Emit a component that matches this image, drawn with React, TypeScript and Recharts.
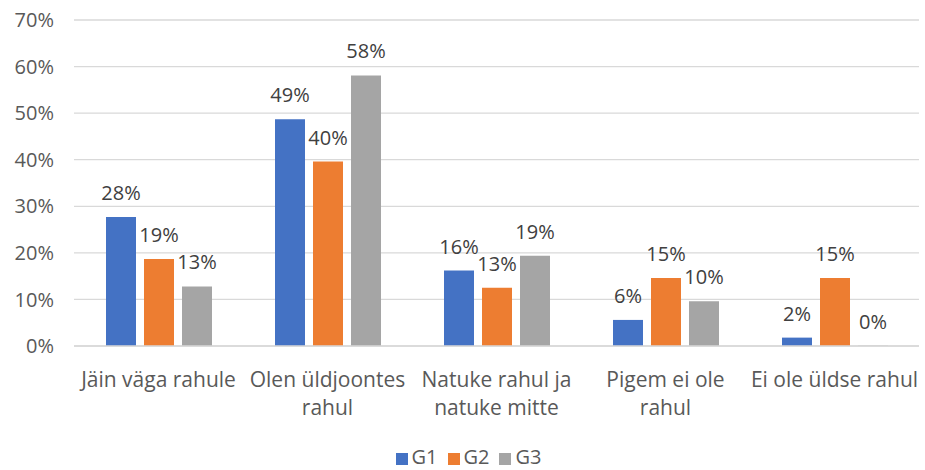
import { BarChart, Bar, CartesianGrid, XAxis, YAxis, Legend, LabelList } from "recharts";

const categories = [
  "Jäin väga rahule",
  "Olen üldjoontes\nrahul",
  "Natuke rahul ja\nnatuke mitte",
  "Pigem ei ole\nrahul",
  "Ei ole üldse rahul",
];
const g1 = [27.7, 48.7, 16.2, 5.6, 1.8];
const g2 = [18.7, 39.6, 12.5, 14.6, 14.6];
const g3 = [12.8, 58.1, 19.4, 9.6, 0];
const yTicks = [0, 10, 20, 30, 40, 50, 60, 70];

const data = categories.map((name, i) => ({ name, G1: g1[i], G2: g2[i], G3: g3[i] }));

const FONT = "'Open Sans', sans-serif";

const CategoryTick = ({ x, y, payload }: any) => {
  const lines = String(payload.value).split("\n");
  return (
    <text x={x} y={y} textAnchor="middle" fill="#595959" fontSize={21} fontFamily={FONT}>
      {lines.map((l, i) => (
        <tspan key={i} x={x} dy={i === 0 ? 33 : 28}>{l}</tspan>
      ))}
    </text>
  );
};

// draws the value above the bar
const ValueLabel = ({ x, y, width, value }: any) => (
  <text
    x={Number(x) + Number(width) / 2}
    y={Number(y) - 17}
    textAnchor="middle"
    fill="#404040"
    fontSize={20}
    fontFamily={FONT}
  >
    {`${Math.round(Number(value))}%`}
  </text>
);

export default function App() {
  return (
    <div style={{ position: "absolute", left: 0, top: 0, background: "#fff" }}>
      <BarChart
        width={925}
        height={470}
        data={data}
        margin={{ top: 20, right: 6, left: 0, bottom: 0 }}
        barGap={8}
        barSize={30}
      >
        <CartesianGrid vertical={false} stroke="#d9d9d9" strokeWidth={1.3} />
        <XAxis
          dataKey="name"
          axisLine={{ stroke: "#d9d9d9", strokeWidth: 1.3 }}
          tickLine={false}
          tick={<CategoryTick />}
          height={97}
          interval={0}
        />
        <YAxis
          domain={[0, 70]}
          ticks={yTicks}
          tickFormatter={(v) => `${v}%`}
          axisLine={false}
          tickLine={false}
          width={74}
          tick={{ fill: "#595959", fontSize: 20, fontFamily: FONT }}
          tickMargin={14}
        />
        <Legend
          verticalAlign="bottom"
          iconType="square"
          iconSize={12}
          wrapperStyle={{ fontFamily: FONT, fontSize: 20, paddingLeft: 14 }}
          formatter={(v) => <span style={{ color: "#595959" }}>{v}</span>}
        />
        <Bar dataKey="G1" fill="#4472C4" isAnimationActive={false}>
          <LabelList dataKey="G1" content={<ValueLabel />} />
        </Bar>
        <Bar dataKey="G2" fill="#ED7D31" isAnimationActive={false}>
          <LabelList dataKey="G2" content={<ValueLabel />} />
        </Bar>
        <Bar dataKey="G3" fill="#A5A5A5" minPointSize={0.3} isAnimationActive={false}>
          <LabelList dataKey="G3" content={<ValueLabel />} />
        </Bar>
      </BarChart>
    </div>
  );
}
